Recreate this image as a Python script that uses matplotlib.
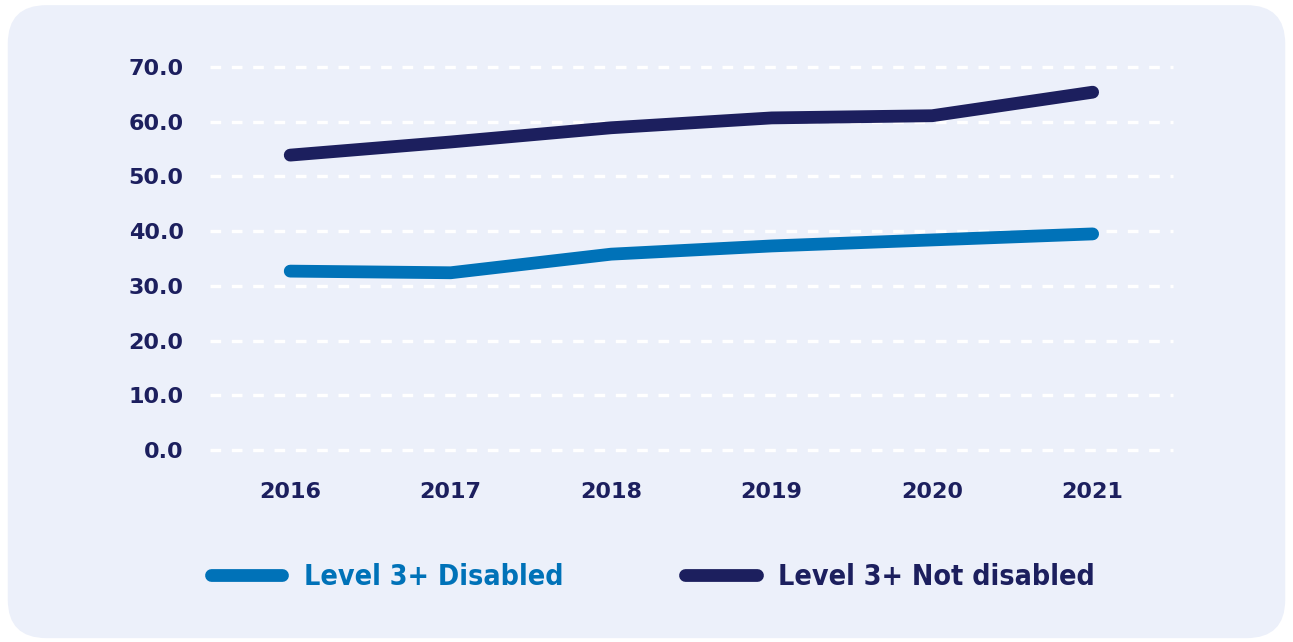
import matplotlib.pyplot as plt
from matplotlib.patches import FancyBboxPatch

years = [2016, 2017, 2018, 2019, 2020, 2021]
disabled = [32.7, 32.4, 35.8, 37.3, 38.4, 39.5]
not_disabled = [53.9, 56.3, 58.9, 60.7, 61.1, 65.4]
yticks = [0, 10, 20, 30, 40, 50, 60, 70]

c_dis = "#0072B8"
c_not = "#1C1F5E"
panel = "#ECF0FA"

fig = plt.figure(figsize=(12.93, 6.42), dpi=100, facecolor="white")

# rounded panel behind everything
bg = FancyBboxPatch((0.006, 0.006), 0.988, 0.986,
                    boxstyle="round,pad=0,rounding_size=0.03",
                    transform=fig.transFigure, facecolor=panel,
                    edgecolor="none", mutation_aspect=2.0, zorder=-5)
fig.patches.append(bg)

ax = fig.add_axes([0.1624, 0.299, 0.7447, 0.5966])
ax.set_facecolor("none")

l1, = ax.plot(years, disabled, color=c_dis, lw=9.2, solid_capstyle="round",
              solid_joinstyle="round", label="Level 3+ Disabled", zorder=3)
l2, = ax.plot(years, not_disabled, color=c_not, lw=9.2, solid_capstyle="round",
              solid_joinstyle="round", label="Level 3+ Not disabled", zorder=3)

ax.set_xlim(2015.5, 2021.5)
ax.set_ylim(0, 70)
ax.set_yticks(yticks)
ax.set_yticklabels([f"{v:.1f}" for v in yticks])
ax.set_xticks(years)
ax.set_xticklabels([str(y) for y in years])

for s in ax.spines.values():
    s.set_visible(False)
ax.tick_params(length=0, labelsize=16, labelcolor=c_not)
ax.tick_params(axis="y", pad=19)
ax.tick_params(axis="x", pad=23)
for lab in ax.get_xticklabels() + ax.get_yticklabels():
    lab.set_fontweight("bold")

ax.yaxis.grid(True, color="white", lw=2.4, linestyle=(0, (3.2, 3.2)), zorder=1)
for gl in ax.get_ygridlines():
    gl.set_clip_on(False)
ax.set_axisbelow(True)

leg = fig.legend(handles=[l1, l2], loc="center left",
                 bbox_to_anchor=(0.1632, 0.1012), ncol=2, frameon=False,
                 borderpad=0, borderaxespad=0,
                 handlelength=2.5, handletextpad=0.75, columnspacing=4.3,
                 prop={"family": ["DejaVu Sans"], "stretch": "condensed",
                       "weight": "bold", "size": 20.5})
for txt, line in zip(leg.get_texts(), [l1, l2]):
    txt.set_color(line.get_color())

fig.savefig("out.png", dpi=100, facecolor="white")
